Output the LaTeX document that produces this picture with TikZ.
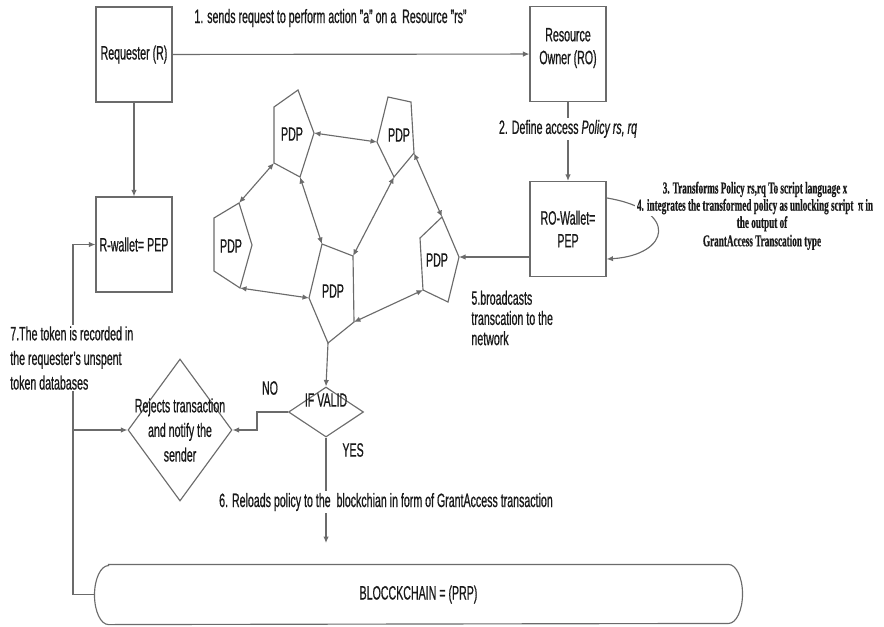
\documentclass[tikz,border=0pt]{standalone}
\usepackage{fontspec}
\setmainfont{Liberation Sans}[FakeStretch=0.55,FakeBold=0.6]
\newfontfamily\narrowserif{Liberation Serif}[FakeStretch=0.55,FakeBold=0.4]
\usetikzlibrary{arrows.meta,shapes.geometric,calc}
\definecolor{linec}{gray}{0.42}
\definecolor{txtc}{gray}{0.1}

\begin{document}
\begin{tikzpicture}[x=0.02cm,y=-0.02cm,>={Latex[length=1.3mm,width=1.1mm]},
  font=\fontsize{11}{13}\selectfont,text=txtc,line width=0.65pt,
  box/.style={draw=linec,minimum width=1.52cm,minimum height=1.9cm,inner sep=1pt,align=center},
  conn/.style={draw=linec},
  pdp/.style={draw=linec,line join=miter},
  cond/.style={diamond,draw=linec,inner sep=0pt},
  lbl/.style={fill=white,inner sep=1pt}]
\useasboundingbox (0,0) rectangle (884,626);
% boxes
\node[box] (req) at (134,54.5) {Requester (R)};
\node[box] (ro) at (568,54) {Resource\\Owner (RO)\\[-4pt]\mbox{}};
\node[box] (rwal) at (134,244.5) {R-wallet= PEP};
\node[box] (rowal) at (568,229) {RO-Wallet=\\PEP};
\draw[conn,->] (req) -- (ro);
\node[anchor=west] (step1) at (188,18) {1. sends request to perform action "a" on a~ Resource "rs"};
\draw[conn,->] (req) -- (rwal);
\draw[conn,->] (ro) -- (rowal) node[lbl,pos=0.34] (step2) {2. Define access \textit{Policy rs, rq}};
% self loop on RO wallet
\draw[conn,->] ($(rowal.north east)+(0,17)$) .. controls (680,210) and (670,255) .. ($(rowal.south east)+(0,-18)$);
\node[lbl,align=center,font=\narrowserif\bfseries\fontsize{9.5}{8.5}\selectfont] (step34) at (755,198)
  {3. Transforms Policy rs,rq To script language x\\4. integrates the transformed policy as unlocking script~ π in};
\node[align=center,font=\narrowserif\bfseries\fontsize{9.5}{10.5}\selectfont] (step4b) at (762,233)
  {the output of\\GrantAccess Transcation type};
% PDP network
\coordinate (a1) at (274,107); \coordinate (a2) at (298,90); \coordinate (a3) at (314,133);
\coordinate (a4) at (300,177); \coordinate (a5) at (274,163);
\coordinate (b1) at (388,97); \coordinate (b2) at (411,102); \coordinate (b3) at (414,153);
\coordinate (b4) at (394,177); \coordinate (b5) at (377,142);
\coordinate (c1) at (214,218); \coordinate (c2) at (239,203); \coordinate (c3) at (252,245);
\coordinate (c4) at (240,288); \coordinate (c5) at (214,271);
\coordinate (d1) at (322,244); \coordinate (d2) at (353,256); \coordinate (d3) at (354,322);
\coordinate (d4) at (328,343); \coordinate (d5) at (309,298);
\coordinate (e1) at (420,238); \coordinate (e2) at (442,217); \coordinate (e3) at (459,257);
\coordinate (e4) at (448,302); \coordinate (e5) at (423,290);
\foreach \p/\lx/\ly in {a/292/134,b/399/135,c/231/246,d/333/291,e/437/260}{
  \draw[pdp] (\p1) -- (\p2) -- (\p3) -- (\p4) -- (\p5) -- cycle;
  \node (pdp\p) at (\lx,\ly) {PDP};
}
\foreach \u/\v in {a5/c2,a3/b5,a4/d1,b4/d2,b3/e2,c4/d5,d3/e5}
  \draw[conn,<->] (\u) -- (\v);
\draw[conn,->] (rowal.west |- e3) -- (e3);
\node[anchor=west,align=left,font=\fontsize{11}{11.5}\selectfont] (step5) at (465,318) {5.broadcasts\\transcation to the\\network};
% decision
\node[cond,minimum width=1.5cm,minimum height=1cm] (valid) at (326,412) {};
\node (validtxt) at (326,400) {IF VALID};
\draw[conn,->] (d4) -- (valid.north);
\node[cond,minimum width=2.08cm,minimum height=2.84cm] (reject) at (180,430) {};
\node[align=center,font=\fontsize{11}{14}\selectfont] (rejecttxt) at (reject) {Rejects transaction\\and notify the\\sender};
\draw[conn,->] (valid.west) -- ++(-31,0) |- (reject.east);
\node (no) at (270,388) {NO};
\node[anchor=west] (yes) at (336,450) {YES};
% blockchain
\node[minimum width=12.94cm,minimum height=1.18cm] (chain) at (418.5,594.5) {BLOCCKCHAIN = (PRP)};
\draw[conn] ([xshift=0.28cm]chain.north west) -- ([xshift=-0.28cm]chain.north east)
  arc[start angle=90,end angle=-90,x radius=0.28cm,y radius=0.59cm]
  -- ([xshift=0.28cm]chain.south west)
  arc[start angle=270,end angle=90,x radius=0.28cm,y radius=0.59cm] -- cycle;
\coordinate (reload) at (326,543);
\draw[conn,->] (valid.south) -- (reload);
\node[lbl] (step6) at (386,502) {6. Reloads policy to the~ blockchian in form of GrantAccess transaction};
% token feedback
\coordinate (back) at (73,594.5);
\draw[conn,->] (chain.west) -- (back) |- (rwal.west);
\draw[conn,->] (back |- reject.west) -- (reject.west);
\node[lbl,anchor=west,align=left,font=\fontsize{11}{14}\selectfont] (step7) at (8,358) {7.The token is recorded in\\the requester's unspent\\token databases};
\end{tikzpicture}
\end{document}
